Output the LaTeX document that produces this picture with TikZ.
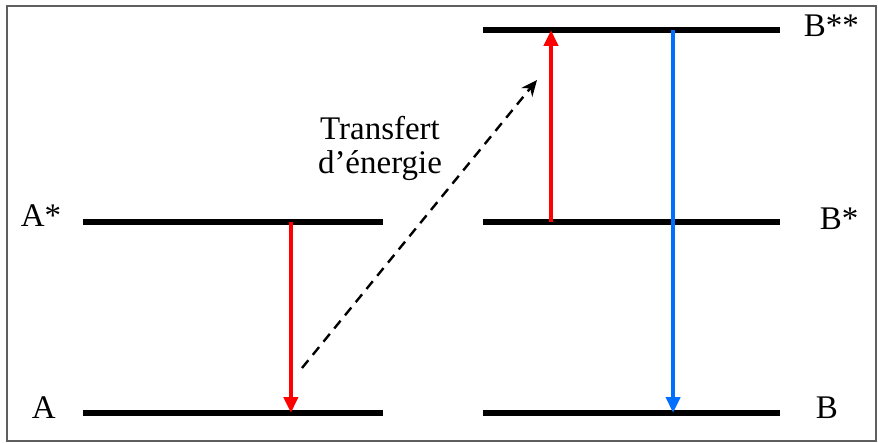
\documentclass[tikz,border=0pt]{standalone}
\usepackage{fontspec}
\setmainfont{Liberation Serif}
\usetikzlibrary{arrows.meta, positioning, calc}

\definecolor{transred}{RGB}{255,0,0}
\definecolor{transblue}{RGB}{0,110,255}
\definecolor{framegray}{RGB}{95,95,95}

\begin{document}
\begin{tikzpicture}[
		x=0.5pt, y=-0.5pt,
		thick,
		>=Stealth,
		level/.style={line width=3pt},
		label/.style={font=\fontsize{16.5}{17}\selectfont, inner sep=0pt, align=center},
		radiative/.style={line width=2pt, -{Triangle[length=8pt, width=7pt]}},
		transfer/.style={line width=1.2pt, dashed, dash pattern=on 5pt off 3.5pt, -{Stealth[length=8pt, width=7pt]}}
		]
		
		% Frame
		\useasboundingbox (0,0) rectangle (878,443);
		\draw[framegray, line width=0.8pt] (7,6) rectangle (876,441);
		
		% Energy levels of A
		\coordinate (AsL) at (83,222);  \coordinate (AsR) at (383,222);
		\coordinate (AL) at (83,413);   \coordinate (AR) at (383,413);
		% Energy levels of B
		\coordinate (BssL) at (483,30); \coordinate (BssR) at (780,30);
		\coordinate (BsL) at (483,222); \coordinate (BsR) at (780,222);
		\coordinate (BL) at (483,413);  \coordinate (BR) at (780,413);
		
		\draw[level] (AsL) -- (AsR);
		\draw[level] (AL) -- (AR);
		\draw[level] (BssL) -- (BssR);
		\draw[level] (BsL) -- (BsR);
		\draw[level] (BL) -- (BR);
		
		% Level labels
		\node[label, anchor=base west] (Aslabel) at (20,227) {A*};
		\node[label, anchor=base west] (Alabel) at (31,418) {A};
		\node[label, anchor=base west] (Bsslabel) at (803,37) {B**};
		\node[label, anchor=base west] (Bslabel) at (819,230) {B*};
		\node[label, anchor=base west] (Blabel) at (815,418) {B};
		
		% Transitions
		\coordinate (redtop) at ($(AsL)!0.693!(AsR)$);
		\coordinate (redbot) at ($(AL)!0.693!(AR)$);
		\draw[radiative, transred] (redtop) -- (redbot);
		
		\coordinate (uplow) at ($(BsL)!0.229!(BsR)$);
		\coordinate (uphigh) at ($(BssL)!0.229!(BssR)$);
		\draw[radiative, transred] (uplow) -- (uphigh);
		
		\coordinate (bluetop) at ($(BssL)!0.64!(BssR)$);
		\coordinate (bluebot) at ($(BL)!0.64!(BR)$);
		\draw[radiative, transblue] (bluetop) -- (bluebot);
		
		% Energy transfer A* -> B**
		\coordinate (trstart) at (302,368);
		\coordinate (trend) at (537,80);
		\draw[transfer] (trstart) -- (trend);
		\node[label] (transfert) at (380,148) {Transfert\\d’énergie};
		
	\end{tikzpicture}
\end{document}
